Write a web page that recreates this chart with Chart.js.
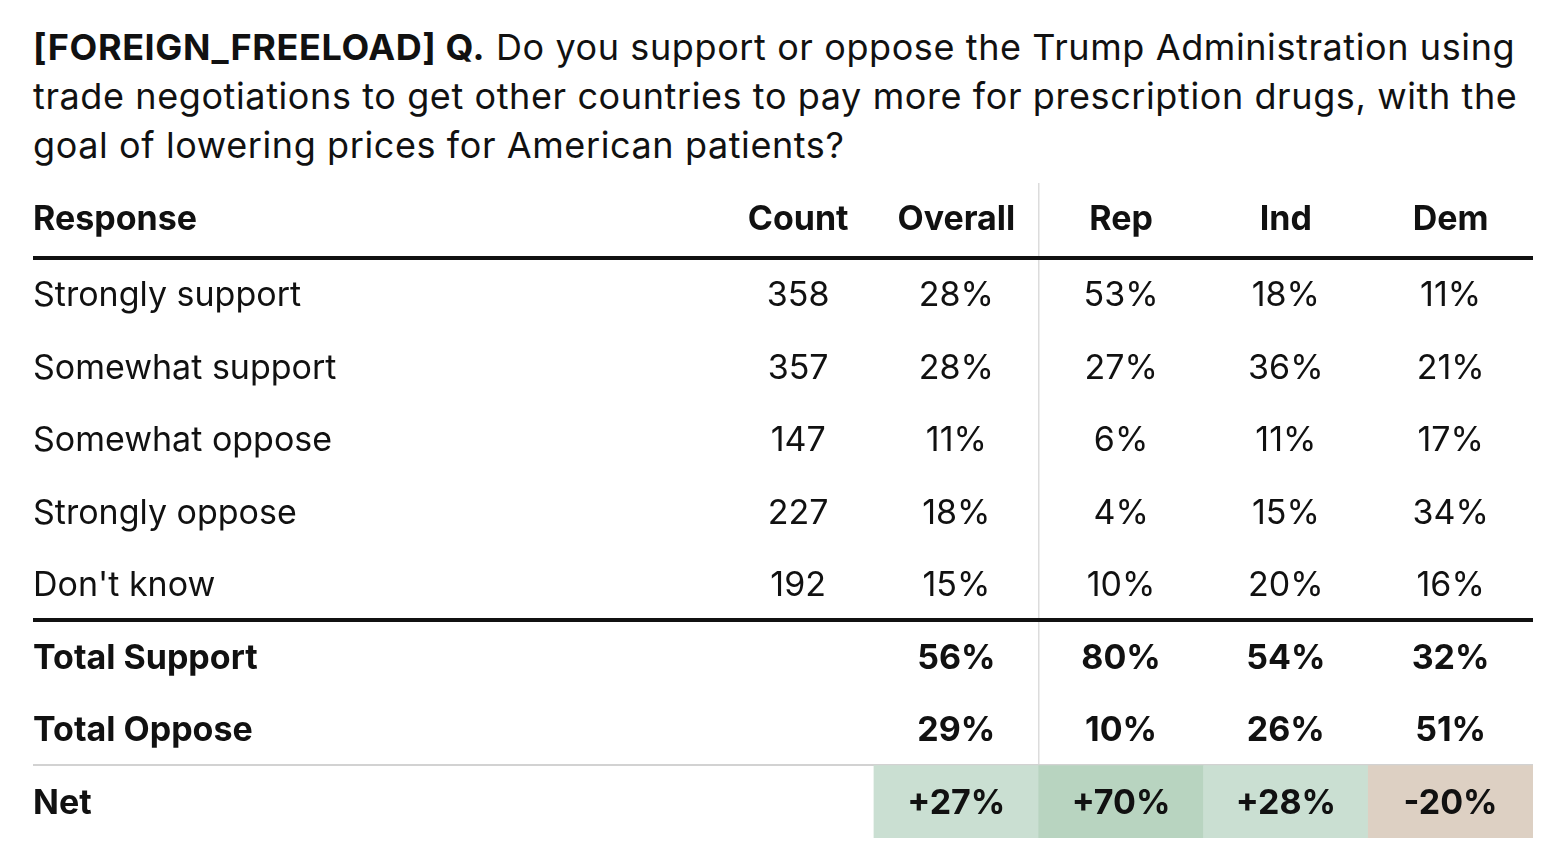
<!DOCTYPE html>
<html>
<head>
<meta charset="utf-8">
<script src="https://cdn.jsdelivr.net/npm/chart.js@4.4.1/dist/chart.umd.min.js"></script>
<style>
  html, body { margin: 0; padding: 0; background: #fff; }
  #wrap { position: relative; width: 1560px; height: 858px; }
  #title {
    position: absolute; left: 33px; top: 23px;
    font: 36px Inter, "Liberation Sans", sans-serif; line-height: 49px;
    letter-spacing: 0.6px;
    color: #111; white-space: nowrap;
  }
  #title b { font-weight: 700; }
  canvas { position: absolute; left: 0; top: 0; }
</style>
</head>
<body>
<div id="wrap">
  <div id="title"><b>[FOREIGN_FREELOAD] Q.</b> Do you support or oppose the Trump Administration using<br>trade negotiations to get other countries to pay more for prescription drugs, with the<br>goal of lowering prices for American patients?</div>
  <canvas id="c" width="1560" height="858"></canvas>
</div>
<script>
// table content
const columns = ['Count', 'Overall', 'Rep', 'Ind', 'Dem'];
const responses = ['Strongly support', 'Somewhat support', 'Somewhat oppose', 'Strongly oppose', "Don't know"];
const counts = [358, 357, 147, 227, 192];
const overall = [28, 28, 11, 18, 15];
const rep = [53, 27, 6, 4, 10];
const ind = [18, 36, 11, 15, 20];
const dem = [11, 21, 17, 34, 16];
// summary rows: Overall, Rep, Ind, Dem
const totalSupport = [56, 80, 54, 32];
const totalOppose = [29, 10, 26, 51];
const net = [27, 70, 28, -20];

const INK = '#111';
const FONT = 'Inter, "Liberation Sans", sans-serif';
const HEADER_ROW = -0.05;
const COUNT_X = 0.04;            // Count column sits a bit left of the regular grid
const colX = [COUNT_X, 1, 2, 3, 4];
const TEXT_DY = 2;               // optical nudge, glyphs sit a touch low in the source

function netColor(v) {
  if (v < 0) return '#ddd0c3';
  if (v >= 50) return '#b8d4c0';
  return '#cadfd2';
}

const tableText = {
  id: 'tableText',
  afterDatasetsDraw(chart) {
    const { ctx, scales: { x, y }, chartArea } = chart;
    const left = chartArea.left;
    const rowY = v => y.getPixelForValue(v) + TEXT_DY;
    ctx.save();
    ctx.fillStyle = INK;
    ctx.textBaseline = 'middle';

    // header
    ctx.font = `bold 34px ${FONT}`;
    ctx.textAlign = 'left';
    ctx.fillText('Response', left, rowY(HEADER_ROW));
    ctx.textAlign = 'center';
    columns.forEach((c, i) => ctx.fillText(c, x.getPixelForValue(colX[i]), rowY(HEADER_ROW)));

    // response rows
    ctx.font = `34px ${FONT}`;
    responses.forEach((r, i) => {
      const py = rowY(i + 1);
      ctx.textAlign = 'left';
      ctx.fillText(r, left, py);
      ctx.textAlign = 'center';
      ctx.fillText(String(counts[i]), x.getPixelForValue(colX[0]), py);
      [overall, rep, ind, dem].forEach((arr, j) => {
        ctx.fillText(arr[i] + '%', x.getPixelForValue(colX[j + 1]), py);
      });
    });

    // summary rows
    ctx.font = `bold 34px ${FONT}`;
    const summary = [
      ['Total Support', totalSupport, v => v + '%'],
      ['Total Oppose', totalOppose, v => v + '%'],
      ['Net', net, v => (v > 0 ? '+' : '') + v + '%']
    ];
    summary.forEach(([label, vals, fmt], k) => {
      const py = rowY(6 + k);
      ctx.textAlign = 'left';
      ctx.fillText(label, left, py);
      ctx.textAlign = 'center';
      vals.forEach((v, j) => ctx.fillText(fmt(v), x.getPixelForValue(colX[j + 1]), py));
    });
    ctx.restore();
  }
};

new Chart(document.getElementById('c'), {
  type: 'bar',
  data: {
    datasets: [{
      label: 'Net',
      data: net.map((v, i) => ({ x: i + 1, y: [7.5, 8.5] })),
      backgroundColor: net.map(netColor),
      borderWidth: 0,
      barPercentage: 1,
      categoryPercentage: 1
    }]
  },
  options: {
    responsive: false,
    animation: false,
    events: [],
    layout: { padding: { left: 33, right: 27, top: 183, bottom: 20 } },
    plugins: { legend: { display: false }, tooltip: { enabled: false }, title: { display: false } },
    scales: {
      x: {
        type: 'linear',
        offset: false,
        min: -4.604,
        max: 4.5,
        afterBuildTicks: s => { s.ticks = [{ value: 1.5 }]; },
        ticks: { display: false },
        border: { display: false },
        grid: { offset: false, drawTicks: false, color: '#dcdcdc', lineWidth: 1.5 }
      },
      y: {
        type: 'linear',
        reverse: true,
        min: -0.53,
        max: 8.5,
        afterBuildTicks: s => { s.ticks = [{ value: 0.5 }, { value: 5.5 }, { value: 7.5 }]; },
        ticks: { display: false },
        border: { display: false },
        grid: {
          drawTicks: false,
          color: ctx => (ctx.tick && ctx.tick.value === 7.5 ? '#d2d2d2' : '#111'),
          lineWidth: ctx => (ctx.tick && ctx.tick.value === 7.5 ? 2 : 4)
        }
      }
    }
  },
  plugins: [tableText]
});
</script>
</body>
</html>
